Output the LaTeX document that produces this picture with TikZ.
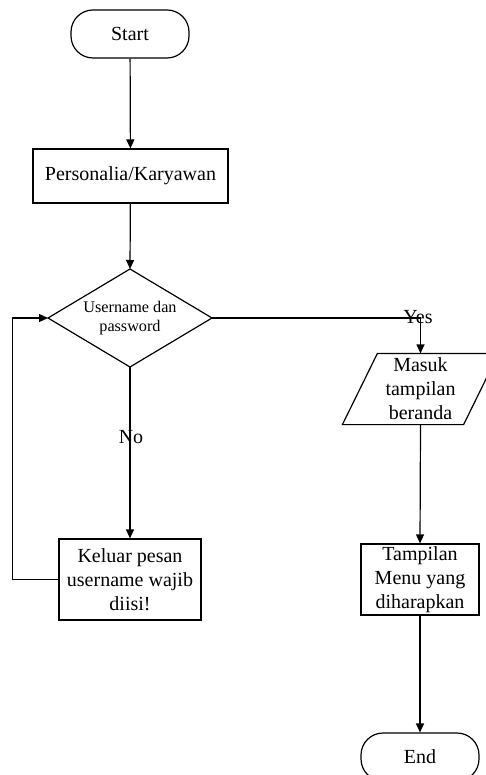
\documentclass[tikz,border=0pt]{standalone}
\usepackage{fontspec}
\setmainfont{Liberation Serif}
\usetikzlibrary{arrows.meta,calc}
\begin{document}
\begin{tikzpicture}[x=1pt,y=-1pt,
  line width=1.2pt,
  every node/.style={font=\fontsize{20}{24}\selectfont},
  term/.style={draw,rounded corners=22pt,minimum width=118pt,minimum height=48pt,inner sep=0pt},
  proc/.style={draw,align=center,inner sep=0pt},
  io/.style={align=center,inner sep=0pt,minimum width=120pt,minimum height=70pt},
  dec/.style={align=center,inner sep=0pt,font=\fontsize{16.2}{18.5}\selectfont},
  arr/.style={-{Triangle[length=9pt,width=8pt]}},
  lbl/.style={inner sep=0pt}]
\useasboundingbox (0,0) rectangle (485,775);
\node[term] (start) at (130,34) {Start};
\node[proc,minimum width=195pt,minimum height=54pt] (pers) at (130.5,176) {Personalia/Karyawan};
\coordinate (dc) at (130,318);
\coordinate (dn) at (130,269);
\coordinate (ds) at (130,367);
\coordinate (dw) at (48,318);
\coordinate (de) at (212,318);
\draw (dn) -- (de) -- (ds) -- (dw) -- cycle;
\node[dec] (dtext) at (dc) {Username dan\\password};
\node[proc,minimum width=142pt,minimum height=81pt] (kel) at (130,579.5) {Keluar pesan\\username wajib\\diisi!};
\node[io] (masuk) at (420.5,389) {Masuk\\tampilan\\beranda};
\draw ($(masuk.north west)+(17.5,0)$) -- ($(masuk.north east)+(17.5,0)$) -- ($(masuk.south east)+(-17.5,0)$) -- ($(masuk.south west)+(-17.5,0)$) -- cycle;
\node[proc,minimum width=118pt,minimum height=71pt] (menu) at (420,579.5) {Tampilan\\Menu yang\\diharapkan};
\node[term] (end) at (420,757) {End};
\draw[arr] (start) -- (pers);
\draw[arr] (pers) -- (dn);
\draw[arr] (de) -| (masuk.north);
\node[lbl] (yes) at (418,317) {Yes};
\draw[arr] (ds) -- (kel.north);
\node[lbl] (no) at (131,437) {No};
\draw[arr] (kel.west) -- ++(-46,0) coordinate (lc) |- (dw);
\draw[arr] (masuk.south) -- (menu.north);
\draw[arr] (menu.south) -- (end.north);
\end{tikzpicture}
\end{document}
